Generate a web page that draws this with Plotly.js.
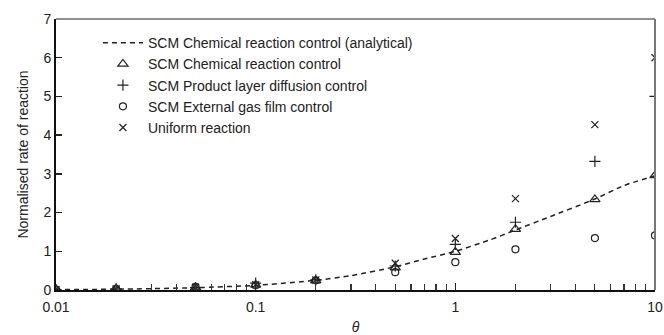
<!DOCTYPE html>
<html>
<head>
<meta charset="utf-8">
<script src="https://cdn.plot.ly/plotly-3.0.1.min.js"></script>
<style>html,body{margin:0;padding:0;background:#fff;}#chart{width:664px;height:335px;}</style>
</head>
<body>
<div id="chart"></div>
<script>
// Data
const theta = [0.01, 0.02, 0.05, 0.1, 0.2, 0.5, 1, 2, 5, 10];
const analyticalTheta = [0.01, 0.02, 0.05, 0.1, 0.2, 0.3, 0.5, 0.7, 1, 1.5, 2, 3, 5, 7, 10];
const analyticalRate = [0.01, 0.02, 0.06, 0.12, 0.25, 0.37, 0.6, 0.8, 1.0, 1.3, 1.55, 1.9, 2.35, 2.7, 2.95];
const chemicalRate = [0.01, 0.03, 0.06, 0.13, 0.24, 0.58, 0.98, 1.57, 2.34, 2.96];
const productLayerRate = [0.01, 0.03, 0.06, 0.18, 0.26, 0.62, 1.18, 1.75, 3.32, 5.0];
const gasFilmRate = [0.01, 0.03, 0.08, 0.12, 0.25, 0.46, 0.72, 1.05, 1.34, 1.41];
const uniformRate = [0.01, 0.03, 0.07, 0.14, 0.26, 0.69, 1.33, 2.36, 4.27, 6.0];
const seriesNames = [
  'SCM Chemical reaction control (analytical)',
  'SCM Chemical reaction control',
  'SCM Product layer diffusion control',
  'SCM External gas film control',
  'Uniform reaction'
];
const xTickVals = [0.01, 0.1, 1, 10];
const xTickText = ['0.01', '0.1', '1', '10'];
const xMinorTickVals = [0.02, 0.03, 0.04, 0.05, 0.06, 0.07, 0.08, 0.09,
                        0.2, 0.3, 0.4, 0.5, 0.6, 0.7, 0.8, 0.9,
                        2, 3, 4, 5, 6, 7, 8, 9];

const ink = '#222';
const traces = [
  {x: analyticalTheta, y: analyticalRate, name: seriesNames[0], mode: 'lines',
   line: {color: ink, width: 1.5, dash: '5px,4px', shape: 'spline', smoothing: 0.6}},
  {x: theta, y: chemicalRate, name: seriesNames[1], mode: 'markers',
   marker: {symbol: 'triangle-up-open', size: 9, color: ink, line: {width: 1.2, color: ink}}},
  {x: theta, y: productLayerRate, name: seriesNames[2], mode: 'markers',
   marker: {symbol: 'cross-thin-open', size: 8, color: ink, line: {width: 1.2, color: ink}}},
  {x: theta, y: gasFilmRate, name: seriesNames[3], mode: 'markers',
   marker: {symbol: 'circle-open', size: 7, color: ink, line: {width: 1.2, color: ink}}},
  {x: theta, y: uniformRate, name: seriesNames[4], mode: 'markers',
   marker: {symbol: 'x-thin-open', size: 7, color: ink, line: {width: 1.2, color: ink}}},
  // invisible carrier so the minor-tick axis is drawn
  {x: theta, y: chemicalRate, xaxis: 'x2', yaxis: 'y', mode: 'markers', showlegend: false,
   hoverinfo: 'skip', marker: {opacity: 0, size: 1}}
];

const layout = {
  width: 664, height: 335,
  margin: {l: 56, r: 9, t: 19, b: 45},
  paper_bgcolor: '#fff', plot_bgcolor: '#fff',
  font: {family: 'Liberation Sans, Arial, sans-serif', size: 14, color: ink},
  showlegend: true,
  legend: {x: 0.07, y: 0.97, xanchor: 'left', yanchor: 'top', bgcolor: 'rgba(0,0,0,0)',
           font: {size: 14, color: ink}, itemwidth: 40, tracegroupgap: 0},
  xaxis: {
    type: 'log', range: [-2, 1],
    tickvals: xTickVals, ticktext: xTickText,
    ticks: 'inside', ticklen: 7, tickwidth: 1.5, tickcolor: '#222',
    showgrid: false, zeroline: false,
    showline: true, linecolor: '#111', linewidth: 1.5,
    ticklabelstandoff: 4,
    tickfont: {size: 14, color: ink},
    title: {text: '<i>θ</i>', font: {size: 14, color: ink}, standoff: 17}
  },
  xaxis2: {
    type: 'log', range: [-2, 1], overlaying: 'x', side: 'bottom', anchor: 'y',
    tickvals: xMinorTickVals, showticklabels: false,
    ticks: 'inside', ticklen: 6, tickwidth: 1.2, tickcolor: '#333',
    showgrid: false, zeroline: false, showline: false
  },
  yaxis: {
    range: [0, 7], dtick: 1,
    ticks: 'inside', ticklen: 6, tickwidth: 1.5, tickcolor: '#222',
    showgrid: false, zeroline: false,
    showline: true, linecolor: '#111', linewidth: 2,
    tickfont: {size: 14, color: ink},
    title: {text: 'Normalised rate of reaction', font: {size: 14, color: ink}, standoff: 12}
  },
  shapes: [
    {type: 'line', xref: 'paper', yref: 'paper', x0: 0, x1: 1, y0: 1, y1: 1, line: {color: '#222', width: 1.2}},
    {type: 'line', xref: 'paper', yref: 'paper', x0: 1, x1: 1, y0: 0, y1: 1, line: {color: '#777', width: 2}}
  ]
};

Plotly.newPlot('chart', traces, layout, {displayModeBar: false, staticPlot: true});
</script>
</body>
</html>
